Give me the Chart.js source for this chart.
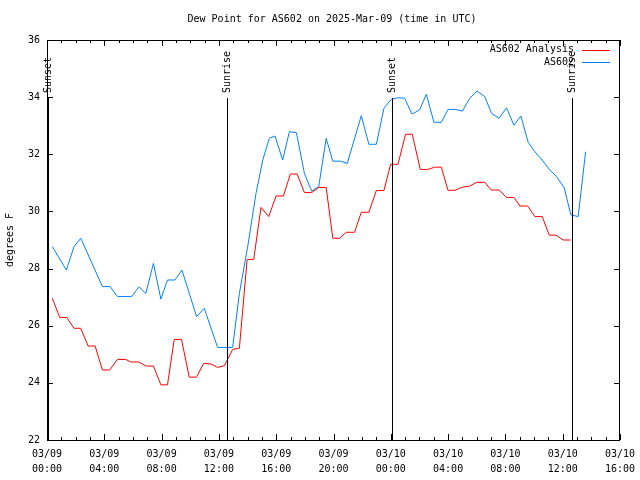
<!DOCTYPE html>
<html lang="en">
  <head>
    <title>Dew Point for AS602</title>
    <meta charset="utf-8">
    <script type="text/javascript" src="https://cdn.jsdelivr.net/npm/chart.js@4/dist/chart.umd.min.js"></script>
    <style>
      body { margin: 0; background: #fff; }
    </style>
  </head>
  <body>
    <canvas id="chart_dew" width="640" height="480"></canvas>

    <script type="text/javascript">

      // hours since 03/09 00:00 UTC
      const analysisHours = [0.37, 0.89, 1.38, 1.89, 2.36, 2.87, 3.36, 3.87, 4.38, 4.92,
        5.50, 5.85, 6.43, 6.90, 7.43, 7.95, 8.41, 8.88, 9.39, 9.93,
        10.44, 10.93, 11.45, 11.91, 12.38, 12.96, 13.43, 13.97, 14.43, 14.94,
        15.48, 15.99, 16.50, 16.99, 17.46, 17.97, 18.48, 18.97, 19.49, 19.95,
        20.42, 20.89, 21.47, 21.94, 22.47, 22.99, 23.52, 23.99, 24.50, 25.03,
        25.50, 26.06, 26.59, 27.06, 27.53, 27.99, 28.51, 28.93, 29.51, 30.02,
        30.56, 31.01, 31.56, 32.08, 32.59, 33.01, 33.55, 34.06, 34.57, 35.06,
        35.52, 36.04, 36.57];
      const analysisDew = [26.96, 26.29, 26.29, 25.91, 25.91, 25.29, 25.29, 24.45, 24.45, 24.82,
        24.82, 24.73, 24.73, 24.59, 24.59, 23.93, 23.93, 25.52, 25.52, 24.20,
        24.20, 24.68, 24.66, 24.54, 24.60, 25.17, 25.21, 28.32, 28.32, 30.14,
        29.82, 30.54, 30.54, 31.31, 31.31, 30.66, 30.66, 30.84, 30.84, 29.06,
        29.06, 29.27, 29.27, 29.97, 29.97, 30.73, 30.73, 31.65, 31.65, 32.70,
        32.70, 31.47, 31.47, 31.55, 31.55, 30.74, 30.74, 30.84, 30.89, 31.02,
        31.02, 30.75, 30.75, 30.49, 30.49, 30.19, 30.19, 29.82, 29.82, 29.17,
        29.17, 29.00, 29.00];

      const stationHours = [0.37, 1.35, 1.89, 2.36, 3.87, 4.41, 4.92, 5.90, 6.43, 6.90,
        7.43, 7.95, 8.41, 8.93, 9.42, 10.44, 10.98, 11.91, 12.96, 13.43,
        14.01, 14.59, 15.06, 15.52, 15.92, 16.45, 16.92, 17.41, 17.97, 18.48,
        18.97, 19.49, 19.95, 20.49, 20.96, 21.94, 22.47, 22.99, 23.52, 24.03,
        24.50, 24.97, 25.48, 26.01, 26.48, 27.01, 27.53, 27.99, 28.53, 29.00,
        29.51, 30.02, 30.56, 31.03, 31.56, 32.08, 32.59, 33.08, 33.59, 34.06,
        34.57, 35.10, 35.57, 36.10, 36.57, 37.08, 37.60];
      const stationDew = [28.77, 27.95, 28.77, 29.06, 27.37, 27.37, 27.02, 27.02, 27.36, 27.13,
        28.18, 26.93, 27.60, 27.60, 27.95, 26.32, 26.61, 25.24, 25.24, 27.13,
        28.77, 30.63, 31.80, 32.56, 32.64, 31.80, 32.79, 32.76, 31.33, 30.71,
        30.87, 32.56, 31.76, 31.76, 31.68, 33.35, 32.35, 32.35, 33.61, 33.92,
        33.98, 33.96, 33.41, 33.55, 34.10, 33.12, 33.12, 33.57, 33.57, 33.51,
        33.96, 34.21, 34.02, 33.43, 33.26, 33.63, 33.02, 33.34, 32.42, 32.09,
        31.80, 31.45, 31.22, 30.83, 29.88, 29.82, 32.09];

      // sun events (hours since 03/09 00:00 UTC)
      const eventHours = [0.08, 12.6, 24.05, 36.65];
      const eventLabels = ['Sunset', 'Sunrise', 'Sunset', 'Sunrise'];

      const xTickHours = [0, 4, 8, 12, 16, 20, 24, 28, 32, 36, 40];
      const xTickDates = ['03/09', '03/09', '03/09', '03/09', '03/09', '03/09',
                          '03/10', '03/10', '03/10', '03/10', '03/10'];
      const xTickTimes = ['00:00', '04:00', '08:00', '12:00', '16:00', '20:00',
                          '00:00', '04:00', '08:00', '12:00', '16:00'];

      const seriesNames = ['AS602 Analysis', 'AS602'];
      const seriesColors = ['rgb(255,0,0)', 'rgb(0,128,255)'];

      const FONT = '10px "DejaVu Sans Mono", monospace';

      function toPoints(xs, ys) {
        return xs.map((h, i) => ({ x: h, y: ys[i] }));
      }

      // gnuplot-ish decorations: border, inward ticks, sun lines, legend, title
      const gnuplotDecor = {
        id: 'gnuplotDecor',
        afterDraw(chart) {
          const ctx = chart.ctx;
          const a = chart.chartArea;
          const xs = chart.scales.x;
          const ys = chart.scales.y;
          ctx.save();
          ctx.strokeStyle = '#000';
          ctx.fillStyle = '#000';
          ctx.lineWidth = 1;

          // ticks (hourly minor, 4-hourly major) on bottom and top
          ctx.beginPath();
          for (let h = 0; h <= 40; h++) {
            const px = Math.round(xs.getPixelForValue(h)) + 0.5;
            const len = (h % 4 === 0) ? 6 : 3;
            ctx.moveTo(px, a.bottom); ctx.lineTo(px, a.bottom - len);
            ctx.moveTo(px, a.top); ctx.lineTo(px, a.top + len);
          }
          for (let v = 22; v <= 36; v += 2) {
            const py = Math.round(ys.getPixelForValue(v)) + 0.5;
            ctx.moveTo(a.left, py); ctx.lineTo(a.left + 6, py);
            ctx.moveTo(a.right, py); ctx.lineTo(a.right - 6, py);
          }
          ctx.stroke();

          // sunrise / sunset markers
          ctx.font = FONT;
          const lineTop = 98;
          eventHours.forEach((h, i) => {
            const px = Math.round(xs.getPixelForValue(h)) + 0.5;
            ctx.beginPath();
            ctx.moveTo(px, lineTop);
            ctx.lineTo(px, a.bottom);
            ctx.stroke();
            ctx.save();
            ctx.translate(px, lineTop - 5);
            ctx.rotate(-Math.PI / 2);
            ctx.textAlign = 'left';
            ctx.textBaseline = 'middle';
            ctx.fillText(eventLabels[i], 0, 0);
            ctx.restore();
          });

          // border
          ctx.strokeRect(a.left + 0.5, a.top + 0.5, a.right - a.left - 1, a.bottom - a.top);

          // legend, top right inside plot
          ctx.textAlign = 'right';
          ctx.textBaseline = 'middle';
          seriesNames.forEach((name, i) => {
            const ly = 49.5 + i * 12.5;
            ctx.fillStyle = '#000';
            ctx.fillText(name, 574, ly);
            ctx.strokeStyle = seriesColors[i];
            ctx.beginPath();
            ctx.moveTo(582, Math.round(ly) + 0.5);
            ctx.lineTo(610, Math.round(ly) + 0.5);
            ctx.stroke();
          });

          // title
          ctx.fillStyle = '#000';
          ctx.textAlign = 'center';
          ctx.fillText('Dew Point for AS602 on 2025-Mar-09 (time in UTC)', 332, 19);
          ctx.restore();
        }
      };

      chart = new Chart("chart_dew", {
        type: "line",
        data: {
          datasets: [
            {
              label: seriesNames[1],
              data: toPoints(stationHours, stationDew),
              borderColor: seriesColors[1],
              borderWidth: 1,
              pointRadius: 0,
              tension: 0,
              order: 1
            },
            {
              label: seriesNames[0],
              data: toPoints(analysisHours, analysisDew),
              borderColor: seriesColors[0],
              borderWidth: 1,
              pointRadius: 0,
              tension: 0,
              order: 0
            }
          ]
        },
        options: {
          responsive: false,
          animation: false,
          layout: { padding: { top: 40, right: 20, left: 0, bottom: 0 } },
          plugins: {
            legend: { display: false },
            title: { display: false },
            tooltip: { enabled: false }
          },
          scales: {
            x: {
              type: 'linear',
              min: 0,
              max: 40,
              afterFit: s => { s.height = 40; s.paddingLeft = 0; s.paddingRight = 0; },
              afterBuildTicks: s => { s.ticks = xTickHours.map(v => ({ value: v })); },
              grid: { display: false, drawTicks: false },
              border: { display: false },
              ticks: {
                maxRotation: 0,
                autoSkip: false,
                padding: 7,
                color: '#000',
                font: { family: '"DejaVu Sans Mono", monospace', size: 10, lineHeight: 1.5 },
                callback: (v) => {
                  const i = xTickHours.indexOf(v);
                  return [xTickDates[i], xTickTimes[i]];
                }
              }
            },
            y: {
              min: 22,
              max: 36,
              afterFit: s => { s.width = 47; },
              grid: { display: false, drawTicks: false },
              border: { display: false },
              ticks: {
                stepSize: 2,
                padding: 7,
                color: '#000',
                font: { family: '"DejaVu Sans Mono", monospace', size: 10 }
              },
              title: {
                display: true,
                text: 'degrees F',
                color: '#000',
                padding: { top: 4, bottom: 0 },
                font: { family: '"DejaVu Sans Mono", monospace', size: 10 }
              }
            }
          }
        },
        plugins: [gnuplotDecor]
      });

    </script>
  </body>
</html>
